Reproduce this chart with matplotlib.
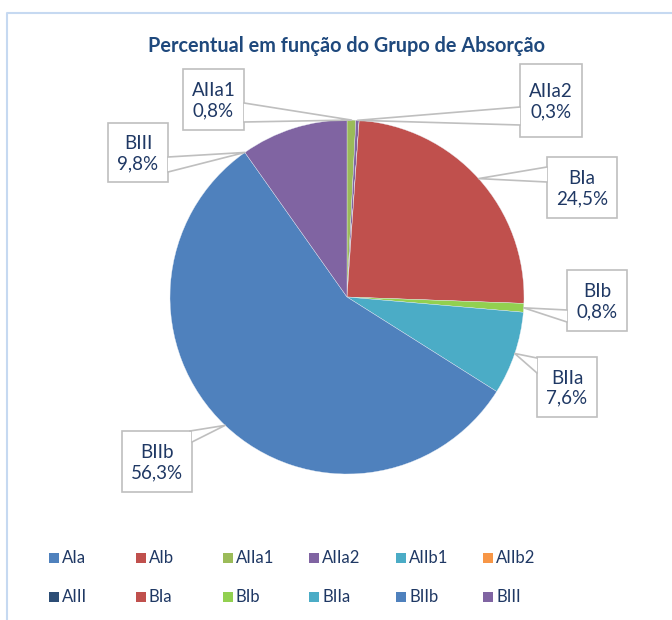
import numpy as np
import matplotlib.pyplot as plt
from matplotlib.patches import Rectangle, Polygon

plt.rcParams['font.family'] = ['Lato', 'DejaVu Sans']

categorias = ['AIa', 'AIb', 'AIIa1', 'AIIa2', 'AIIb1', 'AIIb2',
              'AIII', 'BIa', 'BIb', 'BIIa', 'BIIb', 'BIII']
percentuais = [0, 0, 0.8, 0.3, 0, 0, 0, 24.5, 0.8, 7.6, 56.3, 9.8]
cores = ['#4F81BD', '#C0504D', '#9BBB59', '#8064A2', '#4BACC6', '#F79646',
         '#2C4D75', '#C0504D', '#92D050', '#4BACC6', '#4F81BD', '#8064A2']
titulo = 'Percentual em função do Grupo de Absorção'

W, H = 672, 620
fig = plt.figure(figsize=(W / 100, H / 100), dpi=100)

# pie axes (pixel layout: center 347,297, radius 177)
ax = fig.add_axes([170 / W, (H - 474) / H, 354 / W, 354 / H])
wedges, _ = ax.pie(percentuais, colors=cores, startangle=90, counterclock=False,
                   wedgeprops=dict(edgecolor='#E8EEF6', linewidth=0.25))
ax.set_xlim(-1, 1)
ax.set_ylim(-1, 1)
ax.axis('off')

# overlay in pixel coords for title, callouts, legend
ov = fig.add_axes([0, 0, 1, 1], zorder=5)
ov.set_xlim(0, W)
ov.set_ylim(H, 0)
ov.axis('off')

# light frame
ov.plot([7, 7, W], [H, 13, 13], color='#C6D9F1', lw=1.5)

ov.text(347, 46, titulo, ha='center', va='center', fontsize=14.3,
        fontweight='bold', color='#1F497D')

# callouts: box (x0, y0, x1, y1), base points, extra poly pts, tip position along wedge
callouts = {
    'AIIa1': ((183, 69, 244, 130), [(244, 103), (244, 122)], [], 0.5),
    'AIIa2': ((520, 64, 582, 137), [(520, 107), (520, 125)], [], 0.5),
    'BIa':   ((547, 157, 617, 218), [(547, 167), (547, 182)], [], 0.5),
    'BIb':   ((567, 270, 627, 331), [(567, 310), (567, 322)], [], 0.5),
    'BIIa':  ((537, 357, 597, 417), [(537, 358), (537, 373)], [], 0.5),
    'BIIb':  ((122, 431, 192, 492), [(190, 431), (192, 442)], [(192, 431)], 0.5),
    'BIII':  ((108, 123, 168, 182), [(168, 157), (168, 172)], [], 1.0),
}

inv = ov.transData.inverted()
for nome, (box, base, extra, frac) in callouts.items():
    w = wedges[categorias.index(nome)]
    ang = np.deg2rad(w.theta1 + frac * (w.theta2 - w.theta1))
    tip = inv.transform(ax.transData.transform((np.cos(ang), np.sin(ang))))
    x0, y0, x1, y1 = box
    ov.add_patch(Rectangle((x0, y0), x1 - x0, y1 - y0, facecolor='white',
                           edgecolor='#BFBFBF', lw=1.2, zorder=6))
    pts = [base[0], tuple(tip), base[1]] + extra
    ov.add_patch(Polygon(pts, closed=True, facecolor='white', edgecolor='none', zorder=7))
    ov.plot([base[0][0], tip[0], base[1][0]], [base[0][1], tip[1], base[1][1]],
            color='#BFBFBF', lw=1.2, zorder=8)
    val = percentuais[categorias.index(nome)]
    txt = f'{nome}\n{val:.1f}%'.replace('.', ',')
    ov.text((x0 + x1) / 2, (y0 + y1) / 2 + 1, txt, ha='center', va='center',
            fontsize=13.5, color='#1F3864', linespacing=1.2, zorder=9)

# legend, 6 columns x 2 rows
for i, (nome, cor) in enumerate(zip(categorias, cores)):
    col, row = i % 6, i // 6
    x = 49 + 86.8 * col
    y = 558 + 39 * row
    ov.add_patch(Rectangle((x, y - 5), 10, 10, facecolor=cor, edgecolor='none'))
    ov.text(x + 13, y, nome, ha='left', va='center', fontsize=12, color='#1F3864')

fig.savefig('out.png', dpi=100)
